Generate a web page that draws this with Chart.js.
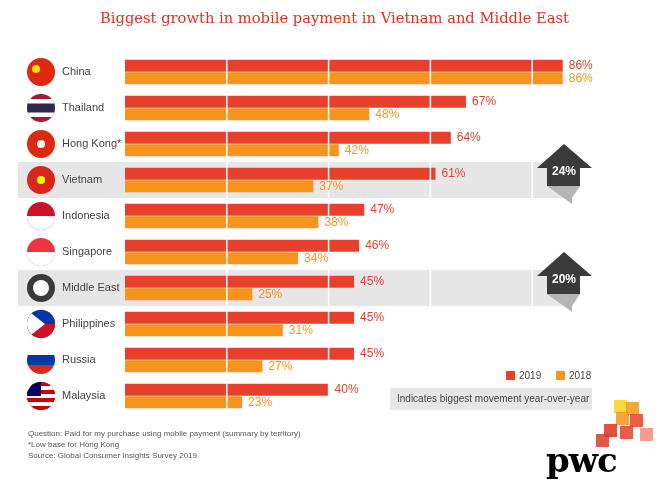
<!DOCTYPE html>
<html><head><meta charset="utf-8">
<script src="https://cdn.jsdelivr.net/npm/chart.js@4"></script>
<style>
html,body{margin:0;padding:0;background:#fff;width:669px;height:498px;overflow:hidden;font-family:"Liberation Sans",Arial,sans-serif}
#wrap{position:absolute;left:0;top:0;width:669px;height:498px}
#title{position:absolute;left:0;width:669px;top:9px;text-align:center;font-family:"DejaVu Serif",Georgia,serif;color:#e0301e;font-size:14.7px}
#notes{position:absolute;left:28px;top:428px;font-size:8px;color:#555;line-height:11px}
#pwc{position:absolute;left:546px;top:440px;font-family:"DejaVu Serif",Georgia,serif;font-weight:bold;font-size:34px;color:#000;letter-spacing:-1px}
</style></head><body>
<div id="wrap"><canvas id="c" width="669" height="498"></canvas></div>
<div id="title">Biggest growth in mobile payment in Vietnam and Middle East</div>
<div id="notes">Question: Paid for my purchase using mobile payment (summary by territory)<br>*Low base for Hong Kong<br>Source: Global Consumer Insights Survey 2019</div>
<div id="pwc">pwc</div>
<script>
const categories=["China","Thailand","Hong Kong*","Vietnam","Indonesia","Singapore","Middle East","Philippines","Russia","Malaysia"];
const values2019=[86,67,64,61,47,46,45,45,45,40];
const values2018=[86,48,42,37,38,34,25,31,27,23];
const highlights=[{row:3,label:"24%"},{row:6,label:"20%"}];
const RED="#e8402c",ORANGE="#f7941d";
const flagColors=[["#de2910","#ffde00"],["#a51931","#2d2a4a"],["#de2910","#fff"],["#da251d","#ffff00"],["#ce1126","#fff"],["#ef3340","#fff"],["#3a3a3a","#fff"],["#0038a8","#ce1126"],["#fff","#d52b1e"],["#cc0001","#010066"]];

const deco={id:'deco',
 beforeDatasetsDraw(ch){const c=ch.ctx,y=ch.scales.y;
  c.save();
  highlights.forEach(h=>{const yc=y.getPixelForValue(h.row);c.fillStyle="#e6e6e6";c.fillRect(18,yc-18,554,36);});
  c.restore();},
 afterDatasetsDraw(ch){const c=ch.ctx,y=ch.scales.y,x=ch.scales.x;
  c.save();
  c.strokeStyle="#fff";c.lineWidth=1.5;
  [20,40,60,80].forEach(v=>{const px=x.getPixelForValue(v);c.beginPath();c.moveTo(px,ch.chartArea.top);c.lineTo(px,ch.chartArea.bottom);c.stroke();});
  c.textBaseline="middle";
  categories.forEach((n,i)=>{const yc=y.getPixelForValue(i);
   const f=flagColors[i];c.save();c.beginPath();c.arc(41,yc,14,0,Math.PI*2);c.clip();
   c.fillStyle=f[0];c.fillRect(27,yc-14,28,28);
   if(i==1){c.fillStyle="#fff";c.fillRect(27,yc-9,28,18);c.fillStyle="#2d2a4a";c.fillRect(27,yc-4.5,28,9);}
   else if(i==4||i==5){c.fillStyle="#fff";c.fillRect(27,yc,28,14);}
   else if(i==7){c.fillStyle="#0038a8";c.fillRect(27,yc-14,28,14);c.fillStyle="#ce1126";c.fillRect(27,yc,28,14);c.fillStyle="#fff";c.beginPath();c.moveTo(27,yc-14);c.lineTo(45,yc);c.lineTo(27,yc+14);c.fill();}
   else if(i==8){c.fillStyle="#0039a6";c.fillRect(27,yc-5,28,10);c.fillStyle="#d52b1e";c.fillRect(27,yc+5,28,10);}
   else if(i==9){for(let k=0;k<7;k++){c.fillStyle=k%2?"#fff":"#cc0001";c.fillRect(27,yc-14+k*4,28,4);}c.fillStyle="#010066";c.fillRect(27,yc-14,14,14);}
   else{c.fillStyle=f[1];c.beginPath();c.arc(i==0?36:41,i==0?yc-3:yc,i==6?8:4,0,Math.PI*2);c.fill();}
   c.restore();
   c.font="11px 'Liberation Sans',Arial";c.textAlign="left";
   c.fillStyle="#444";c.fillText(n,62,yc);
   c.font="12px 'Liberation Sans',Arial";
   c.fillStyle=RED;c.fillText(values2019[i]+"%",x.getPixelForValue(values2019[i])+6,yc-6);
   c.fillStyle=ORANGE;c.fillText(values2018[i]+"%",x.getPixelForValue(values2018[i])+6,yc+7);
  });
  highlights.forEach(h=>{const yc=y.getPixelForValue(h.row);
   c.fillStyle="#b5b5b5";c.beginPath();c.moveTo(547,yc+6);c.lineTo(580,yc+6);c.lineTo(572,yc+18);c.lineTo(572,yc+24);c.closePath();c.fill();
   c.fillStyle="#3a3a3a";c.beginPath();c.moveTo(537,yc-12);c.lineTo(564,yc-36);c.lineTo(592,yc-12);c.lineTo(580,yc-12);c.lineTo(580,yc+6);c.lineTo(547,yc+6);c.lineTo(547,yc-12);c.closePath();c.fill();
   c.fillStyle="#fff";c.font="bold 12px 'Liberation Sans',Arial";c.textAlign="center";c.fillText(h.label,564,yc-8);});
  c.font="10px 'Liberation Sans',Arial";c.textAlign="left";
  c.fillStyle=RED;c.fillRect(506,371,9,9);c.fillStyle="#444";c.fillText("2019",519,376);
  c.fillStyle=ORANGE;c.fillRect(556,371,9,9);c.fillStyle="#444";c.fillText("2018",569,376);
  c.fillStyle="#e6e6e6";c.fillRect(390,388,202,22);c.fillStyle="#444";c.fillText("Indicates biggest movement year-over-year",397,399);
  const sq=[[614,400,"#fcd116"],[626,402,"#f7941d"],[616,412,"#f7941d"],[630,414,"#e8402c"],[604,424,"#e0301e"],[620,426,"#e8402c"],[596,434,"#d93b2b"],[640,428,"#f48b7b"]];
  sq.forEach(s=>{c.globalAlpha=0.85;c.fillStyle=s[2];c.fillRect(s[0],s[1],13,13);});
  c.globalAlpha=1;
  c.restore();}
};

new Chart(document.getElementById('c'),{type:'bar',
 data:{labels:categories,datasets:[
  {label:"2019",data:values2019,backgroundColor:RED,categoryPercentage:25/36,barPercentage:0.96},
  {label:"2018",data:values2018,backgroundColor:ORANGE,categoryPercentage:25/36,barPercentage:0.96}]},
 options:{indexAxis:'y',responsive:false,animation:false,
  layout:{padding:{left:125,right:35,top:54,bottom:84}},
  plugins:{legend:{display:false},tooltip:{enabled:false}},
  scales:{x:{display:false,min:0,max:100},y:{display:false}}},
 plugins:[deco]});
</script></body></html>
